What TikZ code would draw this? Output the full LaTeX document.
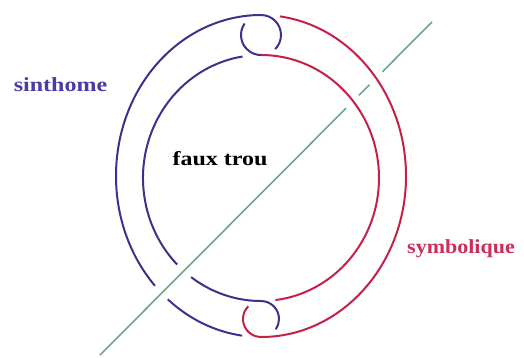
\documentclass[tikz,border=0pt]{standalone}
\usepackage{fontspec}
\setmainfont{Liberation Serif}
\usepackage{graphicx}
\usetikzlibrary{calc}
\definecolor{sblue}{RGB}{62,48,140}
\definecolor{sred}{RGB}{196,32,72}
\definecolor{sgreen}{RGB}{112,166,132}
\definecolor{tblue}{RGB}{78,58,165}
\definecolor{tred}{RGB}{205,45,90}
\begin{document}
\begin{tikzpicture}[x=1pt,y=-1pt,
  bl/.style={draw=sblue, line width=2pt},
  rd/.style={draw=sred, line width=2pt},
  gr/.style={draw=sgreen, line width=1.6pt},
  lbl/.style={font=\bfseries\fontsize{20}{24}\selectfont, anchor=base, inner sep=0pt}]
\useasboundingbox (0,0) rectangle (524,357);
\coordinate (Oo) at (261,176);
\coordinate (Oi) at (261,178);
\coordinate (Lt) at (261,35);
\coordinate (Lb) at (261,319);
\coordinate (G1) at (100,355);
\coordinate (G2) at (432,22);

% green axis (under red, over blue)
\draw[gr] (G1) -- ($(G1)!0.7413!(G2)$);
\draw[gr] ($(G1)!0.7798!(G2)$) -- ($(G1)!0.8117!(G2)$);
\draw[gr] ($(G1)!0.8506!(G2)$) -- (G2);

% blue outer + top loop right side
\draw[bl] (Oo) ++(97.5:145 and 161) arc[start angle=97.5, end angle=130, x radius=145, y radius=161];
\draw[bl] (Oo) ++(137:145 and 161) arc[start angle=137, end angle=270, x radius=145, y radius=161]
  arc[start angle=270, end angle=405, radius=20];
% top loop left side (blue) then red inner
\draw[bl] (Lt) ++(215:20) arc[start angle=215, end angle=90, radius=20];
\draw[rd] (Oi) ++(270:118 and 123) arc[start angle=270, end angle=443, x radius=118, y radius=123];
% blue inner + bottom loop right side
\draw[bl] (Oi) ++(261:118 and 123) arc[start angle=261, end angle=135.3, x radius=118, y radius=123];
\draw[bl] (Oi) ++(126.3:118 and 123) arc[start angle=126.3, end angle=90, x radius=118, y radius=123]
  arc[start angle=270, end angle=395, radius=18];
% bottom loop left side then red outer
\draw[rd] (Lb) ++(225:18) arc[start angle=225, end angle=90, radius=18]
  arc[start angle=90, end angle=-82.5, x radius=145, y radius=161];

\node[lbl, text=tblue] (sin) at (60.5,91.7) {\scalebox{1.2}[1]{sinthome}};
\node[lbl, text=black] (faux) at (220,165) {\scalebox{1.2}[1]{faux trou}};
\node[lbl, text=tred] (sym) at (461,253) {\scalebox{1.1}[1]{symbolique}};
\end{tikzpicture}
\end{document}
